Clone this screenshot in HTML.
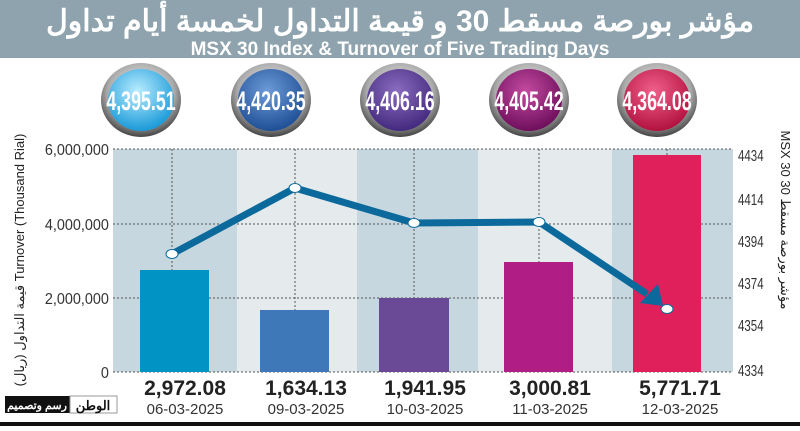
<!DOCTYPE html>
<html><head><meta charset="utf-8"><style>
body{margin:0;width:800px;height:426px;overflow:hidden;background:#fff;font-family:"Liberation Sans","Noto Sans CJK SC",sans-serif}
</style></head><body>
<svg width="800" height="426" xmlns="http://www.w3.org/2000/svg" font-family="Liberation Sans, Noto Sans CJK SC, sans-serif">
<defs>
<radialGradient id="ring" cx="50%" cy="40%" r="60%"><stop offset="0" stop-color="#fff"/><stop offset="0.7" stop-color="#aaa"/><stop offset="1" stop-color="#444"/></radialGradient>
<radialGradient id="g1" cx="45%" cy="35%" r="65%"><stop offset="0" stop-color="#b8ecff"/><stop offset="1" stop-color="#1a9ad8"/></radialGradient>
<radialGradient id="g2" cx="45%" cy="35%" r="65%"><stop offset="0" stop-color="#6d9bd8"/><stop offset="1" stop-color="#1f4f96"/></radialGradient>
<radialGradient id="g3" cx="45%" cy="35%" r="65%"><stop offset="0" stop-color="#8a6cc0"/><stop offset="1" stop-color="#442a7e"/></radialGradient>
<radialGradient id="g4" cx="45%" cy="35%" r="65%"><stop offset="0" stop-color="#c44aa0"/><stop offset="1" stop-color="#6e0f5c"/></radialGradient>
<radialGradient id="g5" cx="45%" cy="35%" r="65%"><stop offset="0" stop-color="#f0608a"/><stop offset="1" stop-color="#b3123f"/></radialGradient>
</defs>
<rect x="0" y="0" width="800" height="58" fill="#8ea3ad"/>
<text x="400" y="31" text-anchor="middle" font-size="30" font-weight="bold" fill="#fff">مؤشر بورصة مسقط 30 و قيمة التداول لخمسة أيام تداول</text>
<text x="400" y="55" text-anchor="middle" font-size="19" font-weight="bold" fill="#fff">MSX 30 Index &amp; Turnover of Five Trading Days</text>
<g font-weight="bold" fill="#fff" font-size="27" text-anchor="middle">
<ellipse cx="141" cy="100" rx="40" ry="37" fill="url(#ring)"/><ellipse cx="141" cy="100" rx="33" ry="31" fill="url(#g1)"/><text x="141" y="110" transform="translate(141 0) scale(0.66 1) translate(-141 0)">4,395.51</text>
<ellipse cx="271" cy="100" rx="40" ry="37" fill="url(#ring)"/><ellipse cx="271" cy="100" rx="33" ry="31" fill="url(#g2)"/><text x="271" y="110" transform="translate(271 0) scale(0.66 1) translate(-271 0)">4,420.35</text>
<ellipse cx="400" cy="100" rx="40" ry="37" fill="url(#ring)"/><ellipse cx="400" cy="100" rx="33" ry="31" fill="url(#g3)"/><text x="400" y="110" transform="translate(400 0) scale(0.66 1) translate(-400 0)">4,406.16</text>
<ellipse cx="529" cy="100" rx="40" ry="37" fill="url(#ring)"/><ellipse cx="529" cy="100" rx="33" ry="31" fill="url(#g4)"/><text x="529" y="110" transform="translate(529 0) scale(0.66 1) translate(-529 0)">4,405.42</text>
<ellipse cx="657" cy="100" rx="40" ry="37" fill="url(#ring)"/><ellipse cx="657" cy="100" rx="33" ry="31" fill="url(#g5)"/><text x="657" y="110" transform="translate(657 0) scale(0.66 1) translate(-657 0)">4,364.08</text>
</g>
<rect x="113" y="149" width="124" height="223" fill="#c6d7df"/>
<rect x="237" y="149" width="120" height="223" fill="#e5eaed"/>
<rect x="357" y="149" width="121" height="223" fill="#c6d7df"/>
<rect x="478" y="149" width="134" height="223" fill="#e5eaed"/>
<rect x="612" y="149" width="121" height="223" fill="#c6d7df"/>
<g stroke="#555" stroke-width="1" stroke-dasharray="2,2">
<line x1="113" y1="149" x2="733" y2="149"/><line x1="113" y1="224" x2="733" y2="224"/><line x1="113" y1="298" x2="733" y2="298"/><line x1="113" y1="372" x2="733" y2="372"/>
<line x1="172" y1="149" x2="172" y2="372"/><line x1="295" y1="149" x2="295" y2="372"/><line x1="414" y1="149" x2="414" y2="372"/><line x1="539" y1="149" x2="539" y2="372"/><line x1="667" y1="149" x2="667" y2="372"/>
</g>
<rect x="140" y="270" width="69" height="102" fill="#0093c4"/>
<rect x="260" y="310" width="69" height="62" fill="#3f78b8"/>
<rect x="379" y="298" width="70" height="74" fill="#6a4a97"/>
<rect x="504" y="262" width="69" height="110" fill="#b01e85"/>
<rect x="633" y="155" width="68" height="217" fill="#e0205a"/>
<polyline points="172,254 295,188 414,223 539,222 647,294" fill="none" stroke="#0b6a9b" stroke-width="7" stroke-linejoin="round"/>
<polygon points="640,303 663,306 658,284" fill="#0b6a9b"/>
<g fill="#fff" stroke="#0b6a9b" stroke-width="1"><ellipse cx="172" cy="254" rx="6" ry="4.5"/><ellipse cx="295" cy="188" rx="6" ry="4.5"/><ellipse cx="414" cy="223" rx="6" ry="4.5"/><ellipse cx="539" cy="222" rx="6" ry="4.5"/><ellipse cx="667" cy="309" rx="6" ry="4.5"/></g>
<g font-size="16" fill="#333" text-anchor="end" transform="scale(0.9 1)">
<text x="121" y="155">6,000,000</text><text x="121" y="230">4,000,000</text><text x="121" y="304">2,000,000</text><text x="121" y="378">0</text>
</g>
<g font-size="16" fill="#333" transform="scale(0.72 1)">
<text x="1025" y="161">4434</text><text x="1025" y="205">4414</text><text x="1025" y="247">4394</text><text x="1025" y="289">4374</text><text x="1025" y="331">4354</text><text x="1025" y="376">4334</text>
</g>
<text transform="translate(24 260) rotate(-90)" text-anchor="middle" font-size="13" fill="#222">(ريال) قيمة التداول  Turnover (Thousand Rial)</text>
<text transform="translate(781 220) rotate(90)" text-anchor="middle" font-size="13" fill="#222">MSX 30  مؤشر بورصة مسقط 30</text>
<g font-size="21" font-weight="bold" fill="#222" text-anchor="middle">
<text x="185" y="395">2,972.08</text><text x="306" y="395">1,634.13</text><text x="425" y="395">1,941.95</text><text x="550" y="395">3,000.81</text><text x="680" y="395">5,771.71</text>
</g>
<g font-size="15" fill="#333" text-anchor="middle">
<text x="185" y="414">06-03-2025</text><text x="306" y="414">09-03-2025</text><text x="425" y="414">10-03-2025</text><text x="550" y="414">11-03-2025</text><text x="680" y="414">12-03-2025</text>
</g>
<rect x="5" y="396" width="65" height="17" fill="#111"/>
<text x="37" y="409" text-anchor="middle" font-size="11" fill="#fff" font-weight="bold">رسم وتصميم</text>
<rect x="70" y="396" width="47" height="17" fill="#fff" stroke="#999"/>
<text x="93" y="410" text-anchor="middle" font-size="13" font-weight="bold" fill="#111">الوطن</text>
<rect x="0" y="422" width="800" height="4" fill="#111"/>
</svg>
</body></html>
